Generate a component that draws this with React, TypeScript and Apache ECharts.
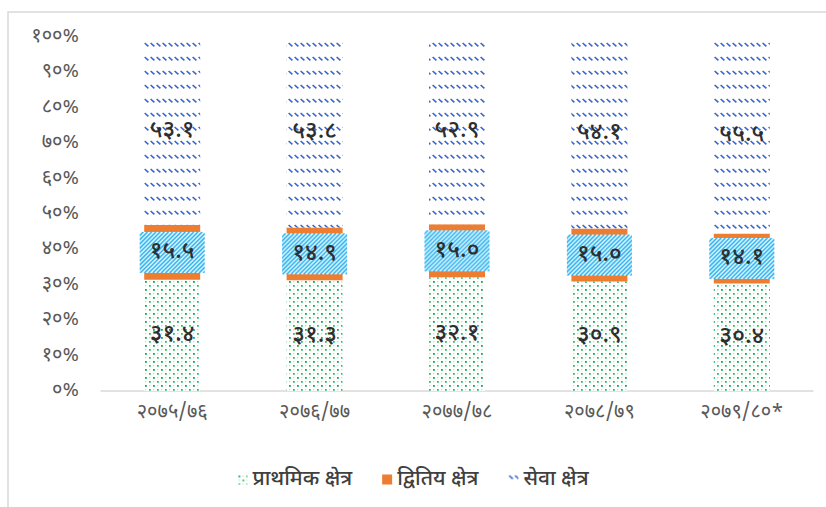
import React, { useEffect, useRef } from "react";
import * as echarts from "echarts";

const categories = ["२०७५/७६", "२०७६/७७", "२०७७/७८", "२०७८/७९", "२०७९/८०*"];
const primaryValues = [31.4, 31.3, 32.1, 30.9, 30.4];
const secondaryValues = [15.5, 14.9, 15.0, 15.0, 14.1];
const serviceValues = [53.1, 53.8, 52.9, 54.1, 55.5];
const seriesNames = ["प्राथमिक क्षेत्र", "द्वितिय क्षेत्र", "सेवा क्षेत्र"];
const yTickLabels = ["०%", "१०%", "२०%", "३०%", "४०%", "५०%", "६०%", "७०%", "८०%", "९०%", "१००%"];

const DIGITS = ["०", "१", "२", "३", "४", "५", "६", "७", "८", "९"];
const toNep = (s: string) => s.replace(/[0-9]/g, (d) => DIGITS[Number(d)]);

const FONT = "'Noto Sans Devanagari', 'Lohit Devanagari', 'Noto Sans', sans-serif";

function makeCanvas(w: number, h: number, draw: (ctx: CanvasRenderingContext2D) => void) {
  const c = document.createElement("canvas");
  c.width = w;
  c.height = h;
  const ctx = c.getContext("2d")!;
  draw(ctx);
  return c;
}

export default function App() {
  const ref = useRef<HTMLDivElement>(null);

  useEffect(() => {
    document.body.style.margin = "0";
    if (!ref.current) return;
    const chart = echarts.init(ref.current, undefined, { renderer: "svg" });

    const greenTile = makeCanvas(8, 8, (ctx) => {
      ctx.fillStyle = "#ffffff";
      ctx.fillRect(0, 0, 8, 8);
      ctx.fillStyle = "#00b050";
      ctx.fillRect(1, 1, 1.8, 1.8);
      ctx.fillStyle = "#2fbd68";
      ctx.fillRect(5, 5, 1.8, 1.8);
      ctx.fillStyle = "#bde9cd";
      ctx.fillRect(5, 1, 1.4, 1.4);
      ctx.fillRect(1, 5, 1.4, 1.4);
    });
    const blueTile = makeCanvas(6, 14, (ctx) => {
      ctx.fillStyle = "#ffffff";
      ctx.fillRect(0, 0, 6, 14);
      ctx.strokeStyle = "#3566cc";
      ctx.lineWidth = 1.6;
      ctx.beginPath();
      ctx.moveTo(0.6, 1);
      ctx.lineTo(4.4, 4.4);
      ctx.stroke();
    });
    const boxBg = makeCanvas(65, 41, (ctx) => {
      ctx.fillStyle = "#ffffff";
      ctx.fillRect(0, 0, 65, 41);
      ctx.strokeStyle = "#29b3f0";
      ctx.lineWidth = 1.7;
      for (let k = -50; k < 120; k += 4.2) {
        ctx.beginPath();
        ctx.moveTo(k, 41);
        ctx.lineTo(k + 41, 0);
        ctx.stroke();
      }
    });

    const greenPattern: any = { image: greenTile, repeat: "repeat", imageWidth: 8, imageHeight: 8 };
    const bluePattern: any = { image: blueTile, repeat: "repeat", imageWidth: 6, imageHeight: 14 };

    const valueLabel = {
      show: true,
      position: "inside",
      fontSize: 24,
      fontWeight: 500,
      color: "#2e2e2e",
      fontFamily: FONT,
      formatter: (p: any) => toNep(Number(p.value).toFixed(1)),
    };

    chart.setOption({
      animation: false,
      graphic: [
        {
          type: "rect",
          shape: { x: 8, y: 12, width: 840, height: 600 },
          style: { fill: "none", stroke: "#d9d9d9", lineWidth: 1.5 },
          silent: true,
        },
      ],
      grid: { left: 101, right: 13, top: 37, bottom: 116, containLabel: false },
      legend: {
        bottom: 12,
        left: "center",
        itemWidth: 10,
        itemHeight: 10,
        itemGap: 30,
        icon: "rect",
        textStyle: { fontSize: 21, fontWeight: 500, color: "#404040", fontFamily: FONT },
        data: seriesNames,
      },
      xAxis: {
        type: "category",
        data: categories,
        axisLine: { lineStyle: { color: "#d9d9d9", width: 1.5 } },
        axisTick: { show: false },
        axisLabel: { fontSize: 20, color: "#595959", margin: 12, fontFamily: FONT },
      },
      yAxis: {
        type: "value",
        min: 0,
        max: 100,
        interval: 10,
        axisLine: { show: false },
        axisTick: { show: false },
        splitLine: { show: false },
        axisLabel: {
          fontSize: 20,
          color: "#595959",
          margin: 22,
          fontFamily: FONT,
          formatter: (v: number) => yTickLabels[Math.round(v / 10)],
        },
      },
      series: [
        {
          name: seriesNames[0],
          type: "bar",
          stack: "total",
          barWidth: 56,
          data: primaryValues,
          itemStyle: { color: greenPattern },
          label: valueLabel,
        },
        {
          name: seriesNames[1],
          type: "bar",
          stack: "total",
          barWidth: 56,
          data: secondaryValues,
          itemStyle: { color: "#ed7d31" },
          label: {
            ...valueLabel,
            width: 55,
            height: 23,
            lineHeight: 23,
            align: "center",
            verticalAlign: "middle",
            padding: [9, 5],
            backgroundColor: { image: boxBg.toDataURL() },
          },
        },
        {
          name: seriesNames[2],
          type: "bar",
          stack: "total",
          barWidth: 56,
          data: serviceValues,
          itemStyle: { color: bluePattern },
          label: valueLabel,
        },
      ],
    });

    return () => chart.dispose();
  }, []);

  return <div ref={ref} style={{ width: 826, height: 507 }} />;
}
